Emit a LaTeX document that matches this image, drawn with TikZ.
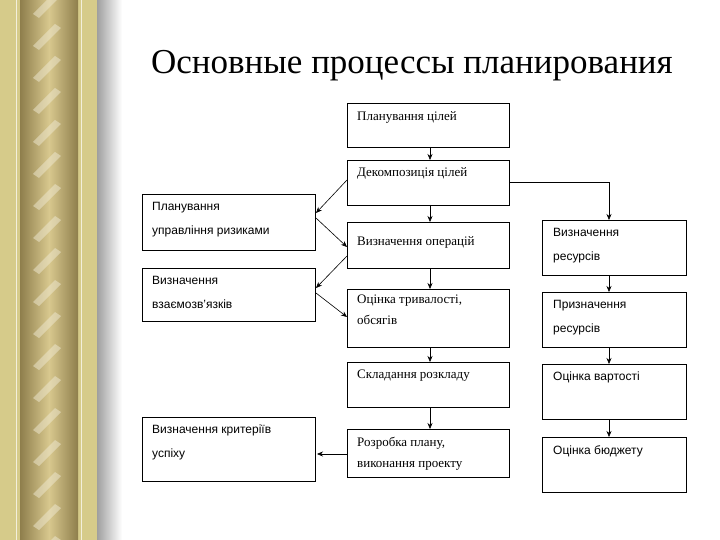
\documentclass[tikz,border=0pt]{standalone}
\usetikzlibrary{arrows.meta}
\usepackage{fontspec}
\setmainfont{Liberation Serif}
\newfontfamily\sansf{Liberation Sans}
\definecolor{goldA}{HTML}{D6CB8A}
\definecolor{goldB}{HTML}{8E7E4C}
\definecolor{goldC}{HTML}{D8C88E}
\begin{document}
\begin{tikzpicture}[x=1pt,y=-1pt,
 box/.style={draw,line width=0.6pt,fill=white},
 ser/.style={anchor=north west,font=\fontsize{13}{21}\selectfont,align=left,inner sep=0},
 san/.style={anchor=north west,font=\sansf\fontsize{12}{24}\selectfont,align=left,inner sep=0},
 arr/.style={-{Stealth[length=6pt,width=5pt]},line width=0.6pt}]
\useasboundingbox (0,0) rectangle (720,540);
\fill[white] (0,0) rectangle (720,540);
% border
\shade[left color=gray!75,right color=white] (97,0) rectangle (122,540);
\fill[goldA] (0,0) rectangle (97,540);
\draw[white!70!goldA,line width=0.8pt] (16,0)--(16,540) (81,0)--(81,540);
\shade[left color=goldB,right color=goldB,middle color=goldC] (20,0) rectangle (78,540);
\foreach \i in {0,...,17}{
 \fill[white!60!goldC,opacity=0.5] (33,{\i*32+14}) -- (55,{\i*32-8}) -- (61,{\i*32-4}) -- (39,{\i*32+18}) -- cycle;}
% title
\node[font=\fontsize{35}{40}\selectfont,anchor=center] (t) at (412,66) {Основные процессы планирования};
% boxes
\draw[box] (347,103) rectangle (509,147); \node[ser] (a1) at (357,111) {Планування цілей};
\draw[box] (347,160) rectangle (509,205); \node[ser] (a2) at (357,167) {Декомпозиція цілей};
\draw[box] (347,222) rectangle (509,268); \node[ser] (a3) at (357,236) {Визначення операцій};
\draw[box] (347,289) rectangle (509,347); \node[ser] (a4) at (357,295) {Оцінка тривалості,\\обсягів};
\draw[box] (347,362) rectangle (509,407); \node[ser] (a5) at (357,370) {Складання розкладу};
\draw[box] (347,429) rectangle (509,477); \node[ser] (a6) at (357,437) {Розробка плану,\\виконання проекту};
\draw[box] (542,220) rectangle (686,275); \node[san] (r1) at (553,228) {Визначення\\ресурсів};
\draw[box] (542,292) rectangle (686,347); \node[san] (r2) at (553,300) {Призначення\\ресурсів};
\draw[box] (542,364) rectangle (686,419); \node[san] (r3) at (553,372) {Оцінка вартості};
\draw[box] (542,437) rectangle (686,492); \node[san] (r4) at (553,445) {Оцінка бюджету};
\draw[box] (142,194) rectangle (315,250); \node[san] (l1) at (152,202) {Планування\\управління ризиками};
\draw[box] (142,268) rectangle (315,321); \node[san] (l2) at (152,276) {Визначення\\взаємозв’язків};
\draw[box] (142,417) rectangle (315,481); \node[san] (l3) at (152,425) {Визначення критеріїв\\успіху};
% arrows
\foreach \a/\b in {147/160,205/222,268/289,347/362,407/429}{\draw[arr] (430,\a)--(430,\b);}
\foreach \a/\b in {275/292,347/364,419/437}{\draw[arr] (609,\a)--(609,\b);}
\draw[arr] (509,182)--(609,182)--(609,220);
\draw[arr] (347,180)--(316,213);
\draw[arr] (316,218)--(347,247);
\draw[arr] (347,256)--(316,288);
\draw[arr] (316,293)--(347,317);
\draw[arr] (347,454)--(317,454);
\end{tikzpicture}
\end{document}
